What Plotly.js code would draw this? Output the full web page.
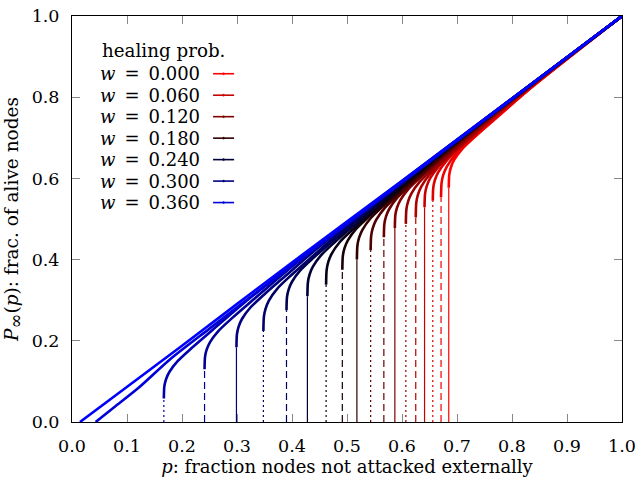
<!DOCTYPE html>
<html>
<head>
<meta charset="utf-8">
<script src="https://cdn.plot.ly/plotly-3.0.1.min.js"></script>
<style>html,body{margin:0;padding:0;background:#fff;}#chart{width:637px;height:481px;}</style>
</head>
<body>
<div id="chart"></div>
<script>
// healing probabilities w = 0.00 ... 0.38 (step 0.02)
const wValues = [0.00,0.02,0.04,0.06,0.08,0.10,0.12,0.14,0.16,0.18,0.20,0.22,0.24,0.26,0.28,0.30,0.32,0.34,0.36,0.38];

// critical points (jump location and height)
const pCrit = [0.685,0.671,0.656,0.641,0.625,0.607,0.587,0.567,0.543,0.518,0.4915,0.462,0.428,0.390,0.348,0.299,0.241,0.167];
const PCrit = [0.577,0.554,0.545,0.529,0.504,0.488,0.478,0.455,0.423,0.400,0.375,0.338,0.310,0.275,0.224,0.184,0.130,0.058];

// P_inf(p) curves
const curveX = [
  [0.685,0.686,0.689,0.695,0.710,0.735,0.775,0.835,0.935,1],
  [0.671,0.672,0.675,0.681,0.696,0.721,0.761,0.821,0.921,1],
  [0.656,0.657,0.660,0.666,0.681,0.706,0.746,0.806,0.906,1],
  [0.641,0.642,0.645,0.651,0.666,0.691,0.731,0.791,0.891,1],
  [0.625,0.626,0.629,0.635,0.650,0.675,0.715,0.775,0.875,1],
  [0.607,0.608,0.611,0.617,0.632,0.657,0.697,0.757,0.857,1],
  [0.587,0.588,0.591,0.597,0.612,0.637,0.677,0.737,0.837,1],
  [0.567,0.568,0.571,0.577,0.592,0.617,0.657,0.717,0.817,1],
  [0.543,0.544,0.547,0.553,0.568,0.593,0.633,0.693,0.793,1],
  [0.518,0.519,0.522,0.528,0.543,0.568,0.608,0.668,0.768,1],
  [0.4915,0.4925,0.4955,0.5015,0.5165,0.5415,0.5815,0.6415,0.7415,1],
  [0.462,0.463,0.466,0.472,0.487,0.512,0.552,0.612,0.712,1],
  [0.428,0.429,0.432,0.438,0.453,0.478,0.518,0.578,0.678,1],
  [0.390,0.391,0.394,0.400,0.415,0.440,0.480,0.540,0.640,1],
  [0.348,0.349,0.352,0.358,0.373,0.398,0.438,0.498,0.598,1],
  [0.299,0.300,0.303,0.309,0.324,0.349,0.389,0.449,0.549,1],
  [0.241,0.242,0.245,0.251,0.266,0.291,0.331,0.391,0.491,1],
  [0.167,0.168,0.171,0.177,0.192,0.217,0.257,0.317,0.417,1],
  [0.043,0.08,0.12,0.178,0.25,0.35,0.5,0.7,1],
  [0.0145,0.2,0.4,0.6,0.8,1]
];
const curveY = [
  [0.577,0.610,0.6275,0.646,0.6736,0.7057,0.753,0.8232,0.9309,1],
  [0.554,0.5897,0.6085,0.628,0.6567,0.6894,0.7372,0.8082,0.9164,1],
  [0.545,0.5788,0.5967,0.6155,0.6434,0.6757,0.7232,0.7936,0.9014,1],
  [0.529,0.563,0.581,0.5999,0.6279,0.6602,0.7077,0.7782,0.8861,1],
  [0.504,0.5407,0.560,0.5799,0.609,0.6419,0.6899,0.7612,0.8696,1],
  [0.488,0.524,0.543,0.5626,0.5914,0.6241,0.6721,0.7431,0.8514,1],
  [0.478,0.5108,0.5283,0.5467,0.5743,0.6063,0.6536,0.7238,0.8314,1],
  [0.455,0.4887,0.5065,0.5253,0.5531,0.5854,0.6328,0.7032,0.811,1],
  [0.423,0.459,0.478,0.4976,0.5264,0.5591,0.6071,0.6781,0.7864,1],
  [0.400,0.4353,0.4539,0.4733,0.5018,0.5344,0.5822,0.653,0.7612,1],
  [0.375,0.4097,0.4281,0.4472,0.4755,0.5079,0.5556,0.6263,0.7343,1],
  [0.338,0.3749,0.3942,0.4142,0.4433,0.4762,0.5244,0.5957,0.7041,1],
  [0.310,0.3449,0.3633,0.3825,0.4108,0.4433,0.491,0.5618,0.6698,1],
  [0.275,0.3088,0.3267,0.3454,0.3733,0.4056,0.4531,0.5235,0.6313,1],
  [0.224,0.2604,0.2794,0.2992,0.3281,0.3609,0.409,0.4801,0.5885,1],
  [0.184,0.2173,0.235,0.2537,0.2814,0.3135,0.3609,0.4312,0.539,1],
  [0.130,0.1618,0.1788,0.1969,0.224,0.2558,0.3029,0.3728,0.4802,1],
  [0.058,0.0889,0.1054,0.1231,0.1498,0.1815,0.2284,0.2979,0.4052,1],
  [0,0.040,0.083,0.154,0.230,0.334,0.487,0.692,1],
  [0,0.188,0.393,0.594,0.797,1]
];

const curveColors = ['#ff0000','#ee0000','#dd0000','#c80000','#b00000','#980000','#800000','#680000','#500000','#300000',
                     '#180008','#080018','#000038','#000050','#000068','#000080','#000098','#0000b0','#0000d8','#0000ff'];
const dropDash = ['solid','7px,4px','2px,3px'];

const legendIdx = [0,3,6,9,12,15,18];
const legendLabels = ['0.000','0.060','0.120','0.180','0.240','0.300','0.360'];

const traces = [];
for (let k = 0; k < curveX.length; k++) {
  if (k < pCrit.length) {
    traces.push({
      x: [pCrit[k], pCrit[k]], y: [0, PCrit[k]], mode: 'lines', showlegend: false, hoverinfo: 'skip',
      line: {color: curveColors[k], width: 1.2, dash: dropDash[k % 3]}
    });
  }
  traces.push({
    x: curveX[k], y: curveY[k], mode: 'lines', showlegend: false, name: 'w=' + wValues[k].toFixed(3),
    line: {color: curveColors[k], width: 2.6, shape: 'spline', smoothing: 0.8}
  });
}

const font = 'DejaVu Serif, serif';
const X0 = 72, X1 = 621.7, Y0 = 422, Y1 = 15.5;
const px = v => (v - X0) / (X1 - X0);
const py = v => (Y0 - v) / (Y0 - Y1);

const annotations = [{
  xref: 'paper', yref: 'paper', x: px(100), y: py(50), xanchor: 'left', yanchor: 'middle',
  text: 'healing prob.', showarrow: false, font: {family: font, size: 18.3, color: '#000'}
}];
const shapes = [];
legendIdx.forEach((k, i) => {
  const yc = 73.3 + 21.5 * i;
  annotations.push({
    xref: 'paper', yref: 'paper', x: px(202), y: py(yc), xanchor: 'right', yanchor: 'middle',
    text: '<i>w</i>\u2002=\u2002' + legendLabels[i], showarrow: false, font: {family: font, size: 18, color: '#000'}
  });
  shapes.push({type: 'line', xref: 'paper', yref: 'paper', x0: px(213), x1: px(234), y0: py(yc), y1: py(yc),
    line: {color: curveColors[k], width: 1.6}});
  shapes.push({type: 'circle', xref: 'paper', yref: 'paper', x0: px(222.5), x1: px(224.5), y0: py(yc + 1), y1: py(yc - 1),
    fillcolor: curveColors[k], line: {color: curveColors[k], width: 0.5}});
});

const axisCommon = {
  range: [0, 1], showgrid: false, zeroline: false, showline: true, linecolor: '#000', linewidth: 1,
  mirror: 'ticks', ticks: 'inside', ticklen: 8, tickcolor: '#888', tickwidth: 1,
  tickformat: '.1f', tickfont: {family: font, size: 17.5, color: '#000'}, ticklabelstandoff: 8
};

const layout = {
  width: 637, height: 481,
  margin: {l: X0, r: 637 - X1, t: Y1, b: 481 - Y0},
  paper_bgcolor: '#fff', plot_bgcolor: '#fff',
  showlegend: false,
  xaxis: Object.assign({}, axisCommon, {dtick: 0.1, tick0: 0,
    title: {text: '<i>p</i>: fraction nodes not attacked externally', font: {family: font, size: 18, color: '#000'}, standoff: 5}}),
  yaxis: Object.assign({}, axisCommon, {dtick: 0.2, tick0: 0,
    title: {text: '<i>P</i><sub><span style="font-size:18px">∞</span></sub>(<i>p</i>): frac. of alive nodes', font: {family: font, size: 18.5, color: '#000'}, standoff: 8}}),
  annotations: annotations,
  shapes: shapes
};

Plotly.newPlot('chart', traces, layout, {staticPlot: true, displayModeBar: false});
</script>
</body>
</html>
